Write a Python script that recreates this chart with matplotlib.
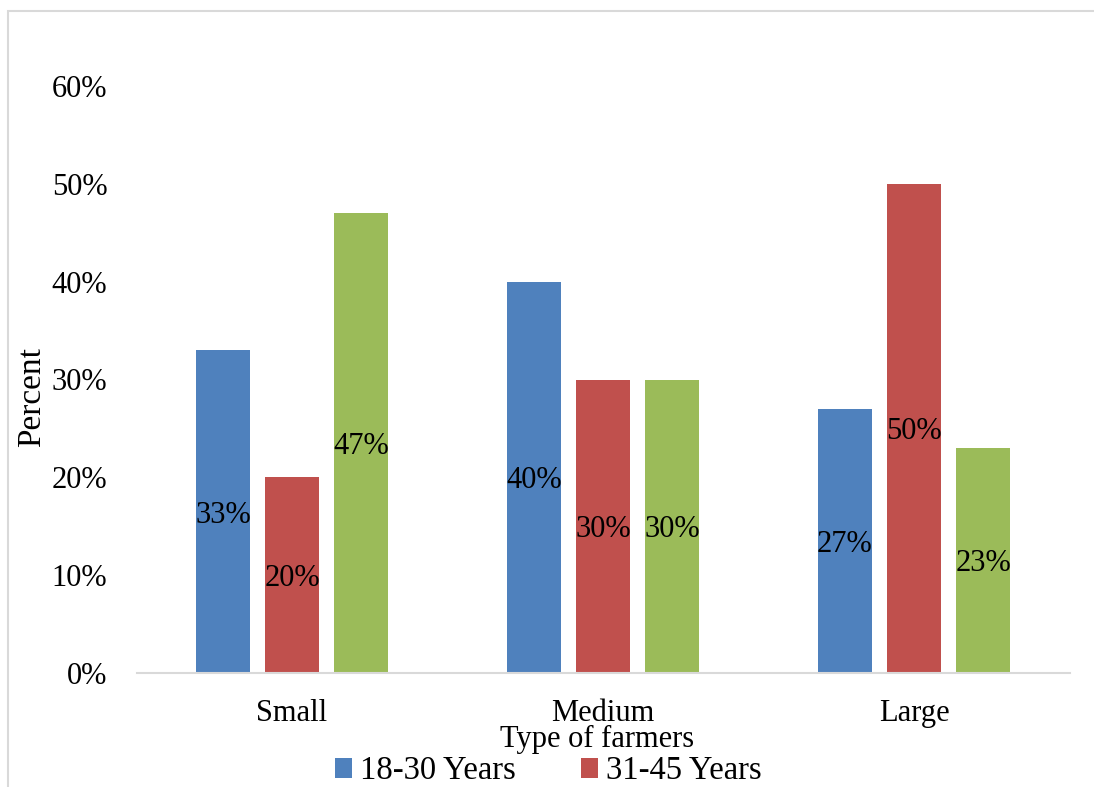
import matplotlib
matplotlib.use("Agg")
import matplotlib.pyplot as plt
from matplotlib.patches import Rectangle
from matplotlib.ticker import FuncFormatter
import numpy as np

plt.rcParams['font.family'] = ['Liberation Serif', 'DejaVu Serif']

categories = ["Small", "Medium", "Large"]
legend_labels = ["18-30 Years", "31-45 Years"]
age_18_30 = [33, 40, 27]
age_31_45 = [20, 30, 50]
age_third = [47, 30, 23]
y_ticks = [0, 10, 20, 30, 40, 50, 60]

colors = ["#4F81BD", "#C0504D", "#9BBB59"]
FS = 22

W, H = 1094, 787
fig = plt.figure(figsize=(W / 100, H / 100), dpi=100)
ax = fig.add_axes([136.5 / W, 1 - 673 / H, 933 / W, (673 - 86) / H])

x = np.arange(len(categories))
bar_w = 0.174
step = 0.222
series = [age_18_30, age_31_45, age_third]
containers = []
for i, vals in enumerate(series):
    xs = x + (i - 1) * step
    c = ax.bar(xs, vals, width=bar_w, color=colors[i], zorder=2)
    containers.append(c)
    # value labels centred inside each bar
    for xi, v in zip(xs, vals):
        ax.annotate(f"{v}%", xy=(xi, v / 2), xytext=(0, -2.5),
                    textcoords='offset points', ha='center', va='center',
                    fontsize=FS, color='black', zorder=3)

ax.set_xlim(-0.5, 2.5)
ax.set_ylim(0, 60)
ax.set_yticks(y_ticks)
ax.yaxis.set_major_formatter(FuncFormatter(lambda v, p: f"{v:.0f}%"))
ax.set_xticks(x)
ax.set_xticklabels(categories)
ax.tick_params(axis='both', length=0, labelsize=FS)
ax.tick_params(axis='y', pad=21)
ax.tick_params(axis='x', pad=18.5)
for s in ['top', 'right', 'left']:
    ax.spines[s].set_visible(False)
ax.spines['bottom'].set_color('#D9D9D9')
ax.spines['bottom'].set_linewidth(1.5)

fig.text(597 / W, 1 - 739 / H, "Type of farmers", ha='center', va='center', fontsize=FS)
fig.text(32 / W, 1 - 397 / H, "Percent", ha='center', va='center', rotation=90, fontsize=24)

LFS = 23.5
fig.legend(containers[:2], legend_labels, loc='center left',
           bbox_to_anchor=(335 / W, 1 - 771 / H), ncol=2, frameon=False,
           fontsize=LFS, handlelength=0.52, handleheight=0.55,
           handletextpad=0.25, columnspacing=2.0, borderpad=0, borderaxespad=0)

# outer chart frame
fig.patches.append(Rectangle((8 / W, -0.1), 1.2, 1.1 - 11 / H, transform=fig.transFigure,
                             fill=False, edgecolor='#D9D9D9', linewidth=1.5))

fig.savefig("out.png", dpi=100)
